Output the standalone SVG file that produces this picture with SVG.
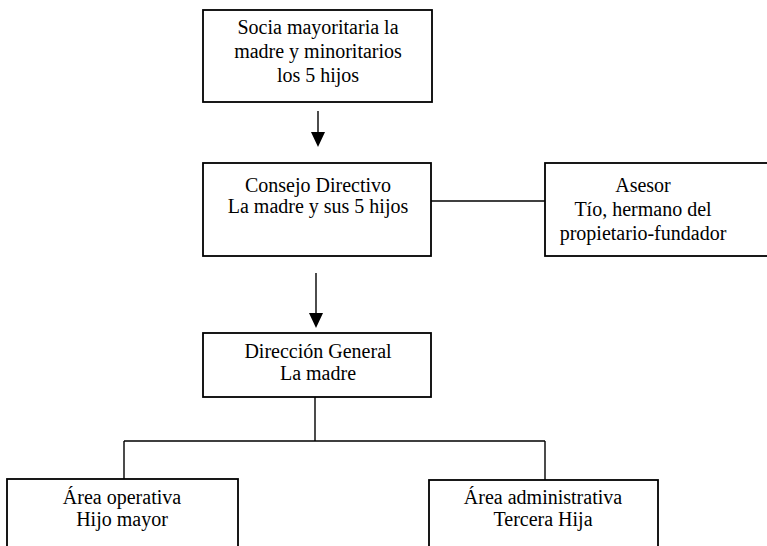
<svg xmlns="http://www.w3.org/2000/svg" width="767" height="546" viewBox="0 0 767 546">
  <style>
    .box { fill: #ffffff; stroke: #000000; stroke-width: 1.8; }
    .label { font-family: "Liberation Serif", "Times New Roman", serif; font-size: 20px; fill: #000000; text-anchor: middle; }
    .link { fill: none; stroke: #000000; stroke-width: 1.4; }
    .head { fill: #000000; }
  </style>
  <rect width="767" height="546" fill="#ffffff"/>

  <g id="connectors">
    <path class="link" d="M318,111 V134"/>
    <path class="head" d="M311,132 H325 L318,147 Z"/>
    <path class="link" d="M431,201 H545"/>
    <path class="link" d="M316,273 V314"/>
    <path class="head" d="M309,313 H323 L316,328 Z"/>
    <path class="link" d="M315,397 V441 M124,441 H545 M124,441 V479 M545,441 V480"/>
  </g>

  <g id="socios">
    <rect class="box" x="203" y="10" width="229" height="92"/>
    <text class="label" x="318" y="34">Socia mayoritaria la</text>
    <text class="label" x="318" y="58">madre y minoritarios</text>
    <text class="label" x="318" y="82">los 5 hijos</text>
  </g>

  <g id="consejo">
    <rect class="box" x="203" y="163" width="228" height="93"/>
    <text class="label" x="318" y="192">Consejo Directivo</text>
    <text class="label" x="318" y="213">La madre y sus 5 hijos</text>
  </g>

  <g id="asesor">
    <rect class="box" x="545" y="163" width="250" height="93"/>
    <text class="label" x="643" y="192">Asesor</text>
    <text class="label" x="643" y="216">Tío, hermano del</text>
    <text class="label" x="643" y="240">propietario-fundador</text>
  </g>

  <g id="direccion">
    <rect class="box" x="203" y="333" width="228" height="64"/>
    <text class="label" x="318" y="358">Dirección General</text>
    <text class="label" x="318" y="380">La madre</text>
  </g>

  <g id="operativa">
    <rect class="box" x="7" y="479" width="231" height="90"/>
    <text class="label" x="122" y="504">Área operativa</text>
    <text class="label" x="122" y="526">Hijo mayor</text>
  </g>

  <g id="administrativa">
    <rect class="box" x="429" y="480" width="229" height="90"/>
    <text class="label" x="543" y="504">Área administrativa</text>
    <text class="label" x="543" y="526">Tercera Hija</text>
  </g>
</svg>
